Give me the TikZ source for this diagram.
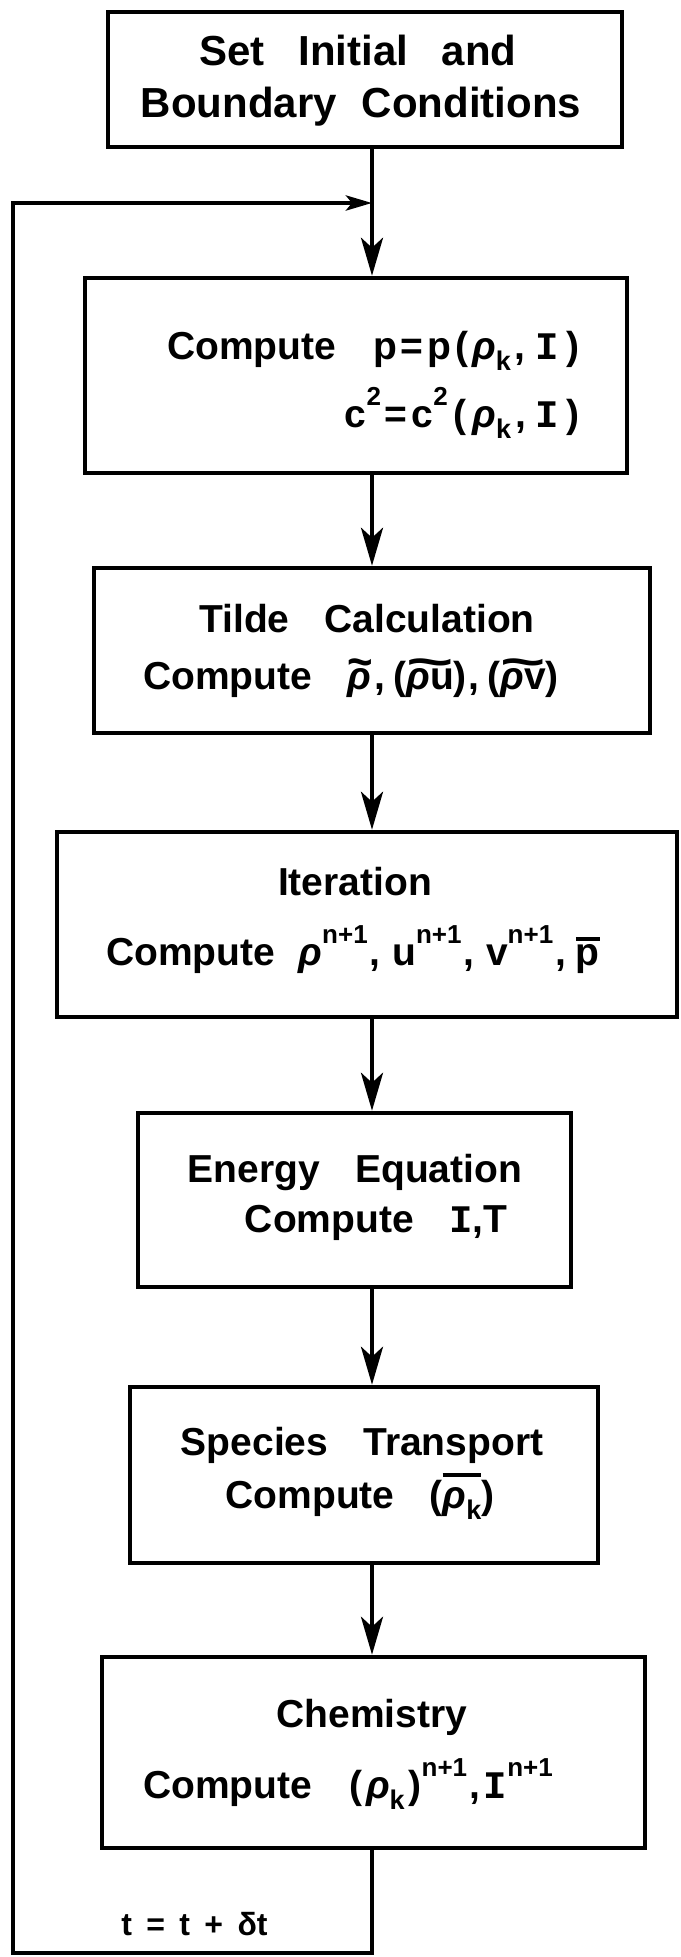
\documentclass[tikz,border=0pt]{standalone}
\usepackage{fontspec}
\setmainfont{Liberation Sans}
\newfontfamily\monof{Liberation Mono}
\usetikzlibrary{arrows.meta}
\newcommand{\rh}{{\itshape ρ}}
\newcommand{\sbk}{\raisebox{-0.3em}{\fontsize{27}{27}\selectfont k}}
\newcommand{\spn}[1]{\raisebox{0.55em}{\fontsize{26}{26}\selectfont #1}}
\newcommand{\II}{{\monof\bfseries I}}
\newcommand{\gap}{\hspace{0.9em}}
\newcommand{\sk}[1]{\hspace{#1em}}
\newcommand{\tld}[1]{\setbox0\hbox{#1}\leavevmode\rlap{\smash{\raisebox{0.3em}{\resizebox{\wd0}{0.48em}{\char"7E}}}}\box0}
\newcommand{\obar}[2]{\setbox0\hbox{#2}\leavevmode\rlap{\smash{\rule[#1em]{\wd0}{0.1em}}}\box0}
\begin{document}
\begin{tikzpicture}[x=1pt,y=-1pt,
  box/.style={draw, line width=4.5pt, inner sep=0pt},
  lab/.style={anchor=base, inner sep=0pt, font=\fontsize{39}{39}\selectfont\bfseries},
  flow/.style={line width=4.5pt, -{Stealth[length=38pt,width=22pt,inset=10pt]}},
  loopline/.style={line width=4.5pt, line join=miter, -{Stealth[length=26pt,width=15pt,inset=6pt]}}]
\useasboundingbox (0,0) rectangle (680,1957);
% boxes
\node[box, minimum width=514pt, minimum height=135pt] (b1) at (365,79.5) {};
\node[box, minimum width=542pt, minimum height=195pt] (b2) at (356,375.5) {};
\node[box, minimum width=556pt, minimum height=165pt] (b3) at (372,650.5) {};
\node[box, minimum width=620pt, minimum height=185pt] (b4) at (367,924.5) {};
\node[box, minimum width=433pt, minimum height=174pt] (b5) at (354.5,1200) {};
\node[box, minimum width=468pt, minimum height=176pt] (b6) at (364,1475) {};
\node[box, minimum width=543pt, minimum height=191pt] (b7) at (373.5,1752.5) {};
% texts
\node[lab, font=\fontsize{42}{42}\selectfont\bfseries] (t1a) at (358,65) {Set\hspace{0.8em}Initial\hspace{0.8em}and};
\node[lab, font=\fontsize{42}{42}\selectfont\bfseries] (t1b) at (361,117) {Boundary\hspace{0.6em}Conditions};
\node[lab, anchor=base west] (t2a) at (167,359) {Compute\sk{0.95}p\sk{0.1}=\sk{0.1}p\sk{0.1}(\sk{0.1}\rh\sbk\sk{0.1},\sk{0.25}\II\sk{0.2})};
\node[lab, anchor=base east] (t2b) at (580,427) {c\spn{2}\sk{0.1}=\sk{0.1}c\spn{2}\sk{0.15}(\sk{0.15}\rh\sbk\sk{0.1},\sk{0.25}\II\sk{0.2})};
\node[lab] (t3a) at (367,632) {Tilde\gap Calculation};
\node[lab, anchor=base west] (t3b) at (143,689) {Compute\sk{0.9}\tld{\rh\sk{0.05}}\sk{0.05},\sk{0.2}(\tld{\rh u})\sk{0.05},\sk{0.2}(\tld{\rh v})};
\node[lab] (t4a) at (355,895) {Iteration};
\node[lab, anchor=base west] (t4b) at (106,965) {Compute\sk{0.6}\rh\spn{n+1}\sk{0.05},\sk{0.3}u\spn{n+1}\sk{0.05},\sk{0.3}v\spn{n+1}\sk{0.05},\sk{0.25}\obar{0.62}{p}};
\node[lab] (t5a) at (355,1182) {Energy\gap Equation};
\node[lab] (t5b) at (376,1232) {Compute\gap\II,T};
\node[lab] (t6a) at (362,1455) {Species\gap Transport};
\node[lab] (t6b) at (360,1508) {Compute\gap(\obar{0.8}{\rh\sbk})};
\node[lab] (t7a) at (372,1727) {Chemistry};
\node[lab, anchor=base west] (t7b) at (143,1798) {Compute\sk{0.95}(\sk{0.1}\rh\sbk\sk{0.1})\spn{n+1}\sk{0.05},\sk{0.1}\II\spn{n+1}};
\node[lab, font=\fontsize{32}{32}\selectfont\bfseries] (tt) at (194.5,1935) {t\sk{0.45}=\sk{0.45}t\sk{0.45}+\sk{0.45}δt};
% connectors
\coordinate (mx) at (372,0);
\coordinate (lb) at (13,1953);
\coordinate (lt) at (13,203);
\coordinate (jn) at (372,203);
\draw[flow] (b1.south -| mx) -- (b2.north -| mx);
\draw[flow] (b2.south -| mx) -- (b3.north -| mx);
\draw[flow] (b3.south -| mx) -- (b4.north -| mx);
\draw[flow] (b4.south -| mx) -- (b5.north -| mx);
\draw[flow] (b5.south -| mx) -- (b6.north -| mx);
\draw[flow] (b6.south -| mx) -- (b7.north -| mx);
\draw[loopline] (b7.south -| mx) |- (lb) -- (lt) -- (jn);
\end{tikzpicture}
\end{document}
